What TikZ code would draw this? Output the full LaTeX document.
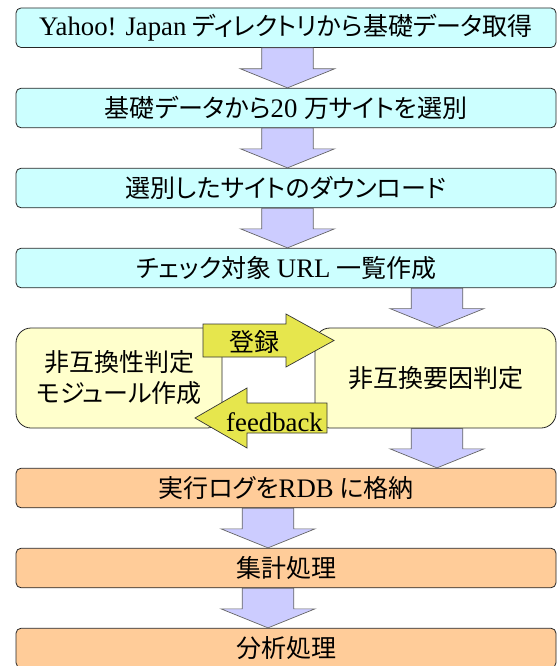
\documentclass[tikz,border=0pt]{standalone}
\usepackage{fontspec}
\setmainfont{Noto Sans CJK JP}[RawFeature=+palt]
\newfontfamily\lat{Liberation Serif}[Scale=1.07]
\usetikzlibrary{calc}
\definecolor{cyanbox}{HTML}{CCFFFF}
\definecolor{yelbox}{HTML}{FFFFCC}
\definecolor{orabox}{HTML}{FFCC99}
\definecolor{lavarr}{HTML}{CCCCFF}
\definecolor{yelarr}{HTML}{E6E64D}
\tikzset{
  every node/.style={font=\fontsize{25}{31}\selectfont, inner sep=0pt},
  flowbox/.style={draw=black!85, line width=0.8pt, rounded corners=5pt,
    minimum width=540pt, minimum height=39.5pt},
  bigbox/.style={draw=black!85, line width=0.8pt, rounded corners=15pt,
    fill=yelbox, minimum height=100pt, align=center},
  downarr/.style={draw=black!60, line width=0.7pt, fill=lavarr},
  sidearr/.style={draw=black!80, line width=0.7pt, fill=yelarr},
}
\newcommand\blockdown[3]{%
  \path[downarr] let \p1=(#2.south), \p2=(#3.north) in
    ({#1pt-25.8pt},\y1) -- ({#1pt+25.8pt},\y1) -- ({#1pt+25.8pt},\y2+19pt)
    -- ({#1pt+47pt},\y2+19pt) -- (#1pt,\y2) -- ({#1pt-47pt},\y2+19pt)
    -- ({#1pt-25.8pt},\y2+19pt) -- cycle;}
\begin{document}
\begin{tikzpicture}[x=1pt,y=-1pt]
\useasboundingbox (0,0) rectangle (557,666);
\clip (0,0) rectangle (557,666);
% boxes
\node[flowbox, fill=cyanbox] (b1) at (286,27.75) {{\lat Yahoo! Japan} ディレクトリから基礎データ取得};
\node[flowbox, fill=cyanbox] (b2) at (286,108) {基礎データから{\lat 20 }万サイトを選別};
\node[flowbox, fill=cyanbox] (b3) at (286,188) {選別したサイトのダウンロード};
\node[flowbox, fill=cyanbox] (b4) at (286,268) {チェック対象 {\lat URL} 一覧作成};
\node[bigbox, minimum width=206pt] (yl) at (119,378) {非互換性判定\\モジュール作成};
\node[bigbox, minimum width=241pt] (yr) at (435.5,378) {非互換要因判定};
\node[flowbox, fill=orabox] (b5) at (286,488) {実行ログを{\lat RDB} に格納};
\node[flowbox, fill=orabox] (b6) at (286,568) {集計処理};
\node[flowbox, fill=orabox] (b7) at (286,648) {分析処理};
% down arrows
\blockdown{287.5}{b1}{b2}
\blockdown{287.5}{b2}{b3}
\blockdown{287.5}{b3}{b4}
\blockdown{437}{b4}{yr}
\blockdown{437}{yr}{b5}
\blockdown{268}{b5}{b6}
\blockdown{268}{b6}{b7}
% side arrows
\path[sidearr] (203,324) -- (286,324) -- (286,314) -- (334,340.5) -- (286,367)
  -- (286,357) -- (203,357) -- cycle;
\path[sidearr] (327,403) -- (247,403) -- (247,388) -- (195,418) -- (247,448)
  -- (247,433) -- (327,433) -- cycle;
\node (reg) at (254,342) {登録};
\node (fb) at (274.5,422) {\lat feedback};
\end{tikzpicture}
\end{document}
